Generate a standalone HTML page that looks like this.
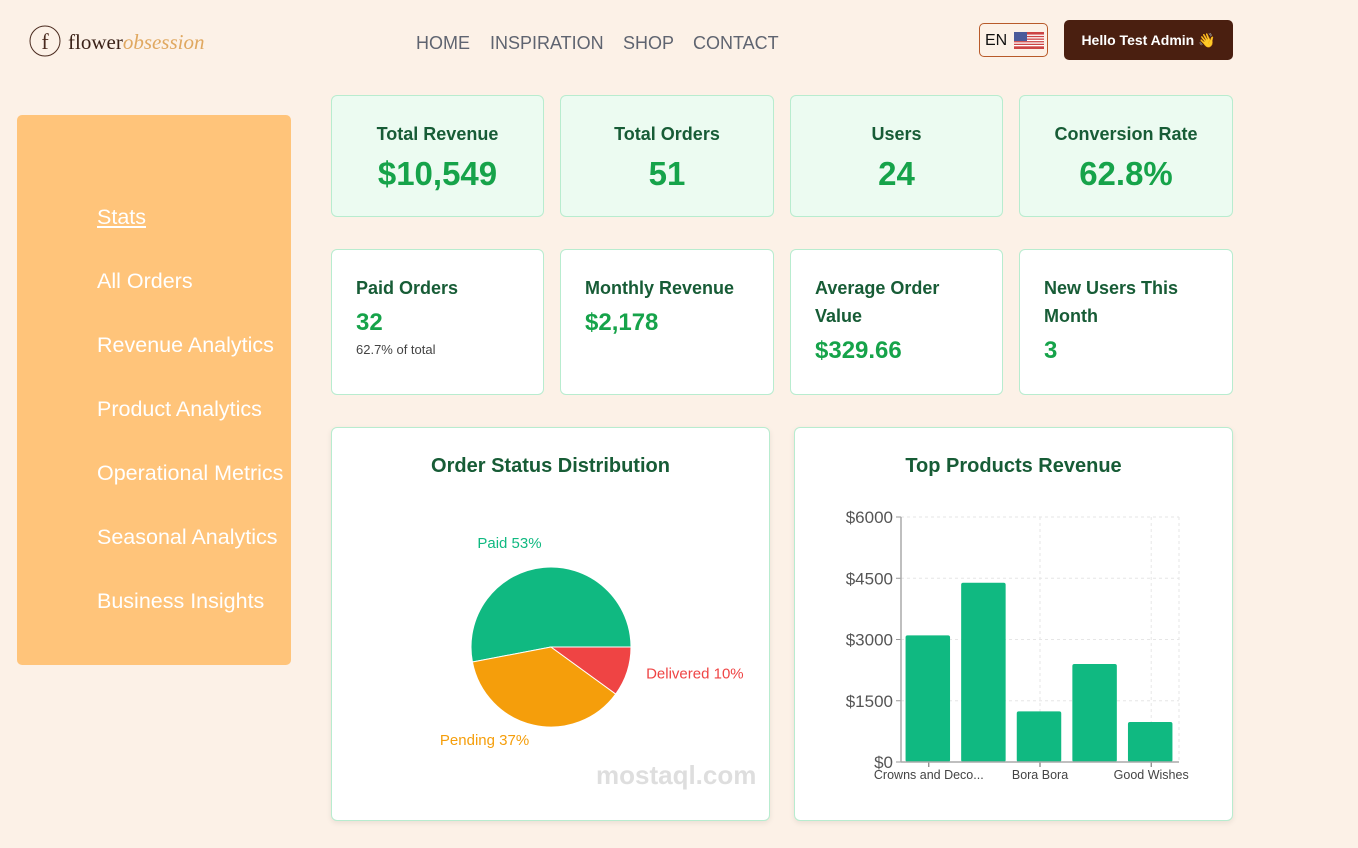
<!DOCTYPE html>
<html><head><meta charset="utf-8"><style>
*{box-sizing:border-box;margin:0;padding:0}
body{width:1358px;height:848px;background:#fcf1e7;font-family:"Liberation Sans",sans-serif;position:relative;overflow:hidden}
.abs{position:absolute}
.nav a{position:absolute;top:33px;font-size:18px;color:#5f6470;text-decoration:none}
.side a{position:absolute;left:80px;color:#fff;font-size:21.5px;text-decoration:none}
.card{position:absolute;border:1px solid #b8eccf;border-radius:6px}
.top{background:#ecfbf1;text-align:center}
.top .t{margin-top:28px;font-size:18px;font-weight:bold;color:#175c36}
.top .v{margin-top:10px;font-size:33px;font-weight:bold;color:#16a34a}
.mid{background:#fff;padding:24px 24px}
.mid .t{font-size:18px;font-weight:bold;color:#175c36;line-height:28px}
.mid .v{font-size:24px;font-weight:bold;color:#16a34a;margin-top:6px;line-height:30px}
.panel{background:#fff;box-shadow:0 2px 6px rgba(0,0,0,0.08)}
.panel h3{position:absolute;top:27px;width:100%;text-align:center;font-size:20px;color:#175c36}
</style></head><body>
<div class="abs" style="left:28px;top:24px;width:190px;height:36px">
<svg width="36" height="36" style="position:absolute;left:0;top:0"><circle cx="17" cy="17" r="15" fill="none" stroke="#4a2a1e" stroke-width="1"/><text x="17" y="25" text-anchor="middle" font-family="Liberation Serif" font-size="22" fill="#4a2a1e">f</text></svg>
<span style="position:absolute;left:40px;top:6px;font-family:'Liberation Serif',serif;font-size:21px;color:#3b2218">flower<i style="color:#e0a860">obsession</i></span></div>
<div class="nav">
<a style="left:416px">HOME</a>
<a style="left:490px">INSPIRATION</a>
<a style="left:623px">SHOP</a>
<a style="left:693px">CONTACT</a></div>
<div class="abs" style="left:979px;top:23px;width:69px;height:34px;border:1px solid #b85a2a;border-radius:5px;font-size:16px;padding:8px 0 0 5px;color:#111">EN
<svg width="30" height="17" style="position:absolute;left:34px;top:8px"><rect width="30" height="17" fill="#c44"/><g fill="#fff"><rect y="2.6" width="30" height="1.3"/><rect y="5.2" width="30" height="1.3"/><rect y="7.8" width="30" height="1.3"/><rect y="10.4" width="30" height="1.3"/><rect y="13" width="30" height="1.3"/></g><rect width="13" height="9" fill="#4a5a9a"/></svg></div>
<div class="abs" style="left:1064px;top:20px;width:169px;height:40px;background:#4a1f10;border-radius:5px;color:#fff;font-size:14px;font-weight:bold;text-align:center;line-height:40px">Hello Test Admin 👋</div>
<div class="abs side" style="left:17px;top:115px;width:274px;height:550px;background:#ffc47a;border-radius:5px">
<a style="top:90px;text-decoration:underline">Stats</a>
<a style="top:154px">All Orders</a>
<a style="top:218px">Revenue Analytics</a>
<a style="top:282px">Product Analytics</a>
<a style="top:346px">Operational Metrics</a>
<a style="top:410px">Seasonal Analytics</a>
<a style="top:474px">Business Insights</a></div>
<div class="card top" style="left:331px;top:95px;width:213px;height:122px"><div class="t">Total Revenue</div><div class="v">$10,549</div></div>
<div class="card top" style="left:560px;top:95px;width:214px;height:122px"><div class="t">Total Orders</div><div class="v">51</div></div>
<div class="card top" style="left:790px;top:95px;width:213px;height:122px"><div class="t">Users</div><div class="v">24</div></div>
<div class="card top" style="left:1019px;top:95px;width:214px;height:122px"><div class="t">Conversion Rate</div><div class="v">62.8%</div></div>
<div class="card mid" style="left:331px;top:249px;width:213px;height:146px"><div class="t">Paid Orders</div><div class="v">32</div><div style="font-size:13px;color:#444;margin-top:4px">62.7% of total</div></div>
<div class="card mid" style="left:560px;top:249px;width:214px;height:146px"><div class="t">Monthly Revenue</div><div class="v">$2,178</div></div>
<div class="card mid" style="left:790px;top:249px;width:213px;height:146px"><div class="t">Average Order Value</div><div class="v">$329.66</div></div>
<div class="card mid" style="left:1019px;top:249px;width:214px;height:146px"><div class="t">New Users This Month</div><div class="v">3</div></div>
<div class="card panel" style="left:331px;top:427px;width:439px;height:394px"><h3>Order Status Distribution</h3>
<svg id="pie" width="414" height="394" style="position:absolute;left:0;top:0;overflow:hidden"></svg></div>
<div class="card panel" style="left:794px;top:427px;width:439px;height:394px"><h3>Top Products Revenue</h3>
<svg id="bar" width="439" height="394" style="position:absolute;left:0;top:0"></svg></div>
<div class="abs" style="left:596px;top:760px;font-size:26px;font-weight:bold;color:rgba(160,160,160,0.35)">mostaql.com</div>
<script>
const pieLabels=["Paid","Pending","Delivered"];
const pieValues=[53,37,10];
const pieColors=["#10b981","#f59e0b","#ef4444"];
const barCats=["Crowns and Deco...","","Bora Bora","","Good Wishes"];
const barValues=[3100,4390,1240,2400,980];
const yTicks=[0,1500,3000,4500,6000];
const NS="http://www.w3.org/2000/svg";
function mk(p,t,a){const e=document.createElementNS(NS,t);for(const k in a)e.setAttribute(k,a[k]);p.appendChild(e);return e;}
const pie=document.getElementById('pie');
const cx=219,cy=219,r=80;const tot=pieValues.reduce((a,b)=>a+b,0);let ang=0;
pieValues.forEach((v,i)=>{const a0=ang,a1=ang+v/tot*2*Math.PI;ang=a1;
const x0=cx+r*Math.cos(a0),y0=cy-r*Math.sin(a0),x1=cx+r*Math.cos(a1),y1=cy-r*Math.sin(a1);
const p=mk(pie,'path',{d:`M${cx},${cy}L${x0},${y0}A${r},${r} 0 ${a1-a0>Math.PI?1:0} 0 ${x1},${y1}Z`,fill:pieColors[i],stroke:'#fff','stroke-width':1});


const m=(a0+a1)/2,lr=r+20;const lx=cx+lr*Math.cos(m),ly=cy-lr*Math.sin(m)-4;
const t=mk(pie,'text',{x:lx,y:ly,'text-anchor':Math.cos(m)<0?'end':'start','dominant-baseline':'central','font-size':15,fill:pieColors[i],'font-family':'Liberation Sans'});
t.textContent=pieLabels[i]+' '+v+'%';

});
const bar=document.getElementById('bar');
const X0=106,X1=384,Y0=334,Y1=89,ymax=6000;
const ys=v=>Y0-(v/ymax)*(Y0-Y1);const band=(X1-X0)/barValues.length;
yTicks.forEach(v=>{const y=ys(v);
if(v>0)mk(bar,'line',{x1:X0,x2:X1,y1:y,y2:y,stroke:'#e6e6e6','stroke-dasharray':'3 3'});
mk(bar,'line',{x1:X0-5,x2:X0,y1:y,y2:y,stroke:'#999'});
const t=mk(bar,'text',{x:X0-8,y:y+6,'text-anchor':'end','font-size':17,fill:'#555','font-family':'Liberation Sans'});t.textContent='$'+v;

});
[2,4].forEach(i=>{const x=X0+band*(i+0.5);mk(bar,'line',{x1:x,x2:x,y1:Y1,y2:Y0,stroke:'#e6e6e6','stroke-dasharray':'3 3'});});
mk(bar,'line',{x1:X1,x2:X1,y1:Y1,y2:Y0,stroke:'#e6e6e6','stroke-dasharray':'3 3'});
barValues.forEach((v,i)=>{const bw=band*0.8,x=X0+band*i+(band-bw)/2-1;
const b=mk(bar,'rect',{x:x,y:ys(v),width:bw,height:Y0-ys(v),fill:'#10b981',rx:2});


if(barCats[i]){const cxx=X0+band*(i+0.5);mk(bar,'line',{x1:cxx,x2:cxx,y1:Y0,y2:Y0+5,stroke:'#666'});
const t=mk(bar,'text',{x:cxx,y:Y0+17,'text-anchor':'middle','font-size':12.5,fill:'#444','font-family':'Liberation Sans'});t.textContent=barCats[i];

}});
mk(bar,'line',{x1:X0,x2:X0,y1:Y1,y2:Y0,stroke:'#aaa','stroke-width':1.5});
mk(bar,'line',{x1:X0,x2:X1,y1:Y0,y2:Y0,stroke:'#aaa','stroke-width':1.5});
</script>
</body></html>
